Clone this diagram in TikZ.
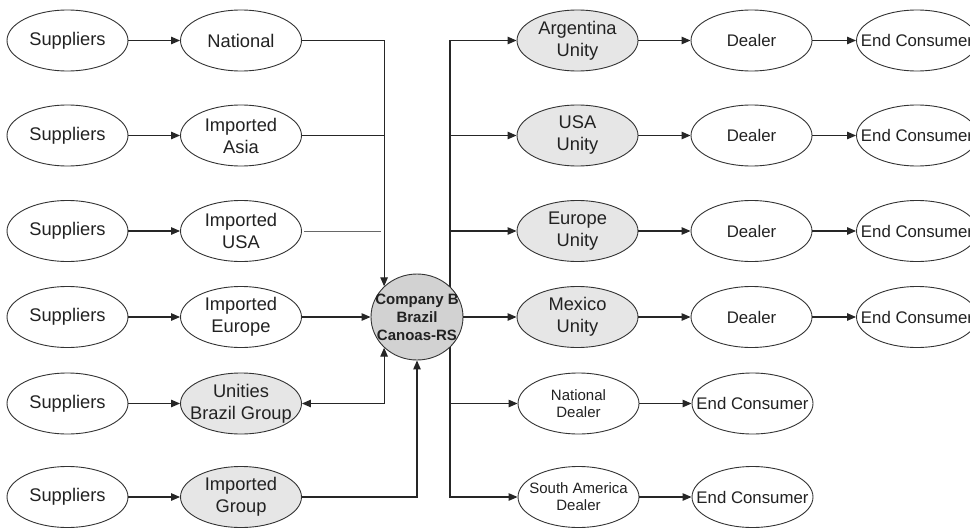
\documentclass[tikz,border=0pt]{standalone}
\usepackage{fontspec}
\setmainfont{Liberation Sans}
\usetikzlibrary{shapes.geometric,arrows.meta}
\definecolor{linec}{HTML}{262626}
\definecolor{bordc}{HTML}{333333}
\definecolor{lightg}{HTML}{E6E6E6}
\definecolor{midg}{HTML}{D2D2D2}
\definecolor{textc}{HTML}{222222}
\tikzset{
  oval/.style={ellipse, draw=bordc, line width=0.9pt, fill=white, minimum width=121pt, minimum height=61pt, inner sep=0pt},
  unity/.style={oval, fill=lightg},
  hub/.style={ellipse, draw=bordc, line width=0.9pt, fill=midg, minimum width=92pt, minimum height=86pt, inner sep=0pt},
  txt/.style={font=\fontsize{18.3}{22}\selectfont, align=center, text=textc, inner sep=0pt},
  endtxt/.style={font=\fontsize{16.8}{20}\selectfont, align=center, text=textc, inner sep=0pt},
  smalltxt/.style={font=\fontsize{15}{17}\selectfont, align=center, text=textc, inner sep=0pt},
  hubtxt/.style={font=\bfseries\fontsize{15}{18}\selectfont, align=center, text=textc, inner sep=0pt},
  conn/.style={draw=linec, line width=1.2pt},
  arr/.style={conn, -{Triangle[length=9pt,width=7.5pt]}},
  darr/.style={conn, {Triangle[length=9pt,width=7.5pt]}-{Triangle[length=9pt,width=7.5pt]}},
  faint/.style={draw=linec!70, line width=0.8pt},
}
\begin{document}
\begin{tikzpicture}[x=1pt,y=-1pt]
\useasboundingbox (0,0) rectangle (970,528);

% positions
\foreach \i/\y in {1/40.5,2/135.5,3/231,4/317,5/403.5,6/497}{
  \coordinate (ps\i) at (67.5,\y);
  \coordinate (pm\i) at (241,\y);
}
\coordinate (pc) at (417,317);
\foreach \i/\y in {1/40.5,2/135.5,3/231,4/317}{
  \coordinate (pr\i) at (577.5,\y);
  \coordinate (pd\i) at (751.5,\y);
  \coordinate (pe\i) at (917,\y);
}
\coordinate (pr5) at (578.5,403.5);
\coordinate (pr6) at (578.5,497);
\coordinate (pd5) at (752.5,403.5);
\coordinate (pd6) at (752.5,497);
\coordinate (busTop) at (450,287);
\coordinate (busBot) at (450,347);

% nodes
\foreach \i in {1,...,6}{
  \node[oval] (s\i) at (ps\i) {};
  \node[txt] (st\i) at (s\i) {Suppliers};
}
\node[oval] (m1) at (pm1) {};
\node[oval] (m2) at (pm2) {};
\node[oval] (m3) at (pm3) {};
\node[oval] (m4) at (pm4) {};
\node[unity] (m5) at (pm5) {};
\node[unity] (m6) at (pm6) {};
\node[txt] (mt1) at (m1) {National};
\node[txt] (mt2) at (m2) {Imported\\Asia};
\node[txt] (mt3) at (m3) {Imported\\USA};
\node[txt] (mt4) at (m4) {Imported\\Europe};
\node[txt] (mt5) at (m5) {Unities\\Brazil Group};
\node[txt] (mt6) at (m6) {Imported\\Group};

\node[unity] (r1) at (pr1) {};
\node[unity] (r2) at (pr2) {};
\node[unity] (r3) at (pr3) {};
\node[unity] (r4) at (pr4) {};
\node[oval] (r5) at (pr5) {};
\node[oval] (r6) at (pr6) {};
\node[txt] (rt1) at (r1) {Argentina\\Unity};
\node[txt] (rt2) at (r2) {USA\\Unity};
\node[txt] (rt3) at (r3) {Europe\\Unity};
\node[txt] (rt4) at (r4) {Mexico\\Unity};
\node[smalltxt] (rt5) at (r5) {National\\Dealer};
\node[smalltxt] (rt6) at (r6) {South America\\Dealer};

\foreach \i in {1,...,4}{
  \node[oval] (d\i) at (pd\i) {};
  \node[endtxt] (dt\i) at (d\i) {Dealer};
  \node[oval] (e\i) at (pe\i) {};
  \node[endtxt] (et\i) at (e\i) {End Consumer};
}
\node[oval] (e5) at (pd5) {};
\node[endtxt] (et5) at (e5) {End Consumer};
\node[oval] (e6) at (pd6) {};
\node[endtxt] (et6) at (e6) {End Consumer};

% left connectors
\foreach \i in {1,...,6}{
  \draw[arr] (s\i.east) -- (m\i.west);
}

% right-side bus (drawn before hub so the hub covers it)
\draw[arr] (busTop) |- (r1.west);
\draw[arr] (busTop |- r2.west) -- (r2.west);
\draw[arr] (busTop |- r3.west) -- (r3.west);
\draw[arr] (busBot) |- (r6.west);
\draw[arr] (busBot |- r5.west) -- (r5.west);

% central hub
\node[hub] (c) at (pc) {};
\node[hubtxt] (ct) at (c) {Company B\\Brazil\\Canoas-RS};

% inputs to the hub
\draw[arr] (m1.east) -| (c.137.7);
\draw[conn] (m2.east) -- (m2.east -| c.137.7);
\draw[faint] ([xshift=2pt]m3.east) -- ([xshift=-3pt]m3.east -| c.137.7);
\draw[arr] (m4.east) -- (c.west);
\draw[darr] (m5.east) -| (c.-137.7);
\draw[arr] (m6.east) -| (c.south);

% outputs
\draw[arr] (c.east) -- (r4.west);
\foreach \i in {1,...,4}{
  \draw[arr] (r\i.east) -- (d\i.west);
  \draw[arr] (d\i.east) -- (e\i.west);
}
\draw[arr] (r5.east) -- (e5.west);
\draw[arr] (r6.east) -- (e6.west);
\end{tikzpicture}
\end{document}
